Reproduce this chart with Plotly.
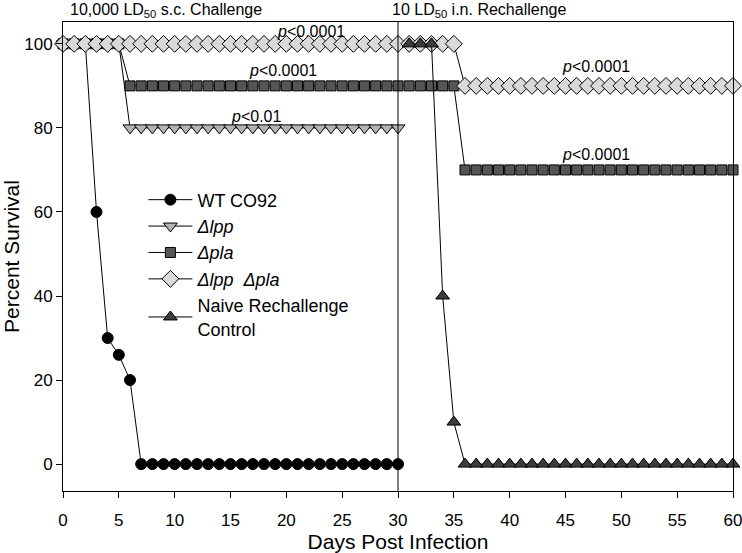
import plotly.graph_objects as go

# days and survival (%) for each group
days_sc = list(range(0, 31))
days_all = list(range(0, 61))
days_naive = list(range(31, 61))

wt_co92 = [100, 100, 100, 60, 30, 26, 20] + [0] * 24
d_lpp = [100] * 6 + [80] * 25
d_pla = [100] * 6 + [90] * 30 + [70] * 25
d_lpp_pla = [100] * 36 + [90] * 25
naive = [100, 100, 100, 40, 10] + [0] * 25

series = [
    ("WT CO92", days_sc, wt_co92, "circle", "black", 11),
    ("<i>Δlpp</i>", days_sc, d_lpp, "triangle-down", "#b4b4b4", 12),
    ("<i>Δpla</i>", days_all, d_pla, "square", "#555555", 10),
    ("<i>Δlpp  Δpla</i>", days_all, d_lpp_pla, "diamond", "#d9d9d9", 13),
    ("Naive Rechallenge<br>Control", days_naive, naive, "triangle-up", "#3c3c3c", 12),
]

fig = go.Figure()
for name, x, y, sym, col, sz in series:
    fig.add_trace(go.Scatter(
        x=x, y=y, name=name, mode='lines+markers',
        line=dict(color='black', width=1),
        marker=dict(symbol=sym, color=col, size=sz, line=dict(color='black', width=1)),
        cliponaxis=False
    ))

# p-value labels
pvals = [
    (22.2, 102.9, "<i>p</i><0.0001"),
    (19.7, 93.6, "<i>p</i><0.0001"),
    (17.3, 82.6, "<i>p</i><0.01"),
    (47.7, 94.5, "<i>p</i><0.0001"),
    (47.7, 73.6, "<i>p</i><0.0001"),
]
for px, py, txt in pvals:
    fig.add_annotation(x=px, y=py, text=txt, showarrow=False,
                       font=dict(size=16, color='black'))

fig.add_annotation(x=0.0075, y=1.0, xref='paper', yref='paper', yanchor='bottom', xanchor='left',
                   text="10,000 LD<sub>50</sub> s.c. Challenge", showarrow=False,
                   font=dict(size=16, color='black'))
fig.add_annotation(x=0.488, y=1.0, xref='paper', yref='paper', yanchor='bottom', xanchor='left',
                   text="10 LD<sub>50</sub> i.n. Rechallenge", showarrow=False,
                   font=dict(size=16, color='black'))

fig.add_shape(type='line', x0=30, x1=30, y0=0, y1=1, xref='x', yref='paper',
              line=dict(color='black', width=1))

fig.update_layout(
    width=742, height=553,
    margin=dict(l=63, r=9, t=22, b=62),
    plot_bgcolor='white', paper_bgcolor='white',
    font=dict(family='Liberation Sans, Arial, sans-serif', color='black', size=17),
    showlegend=True,
    legend=dict(x=0.12, y=0.66, xanchor='left', yanchor='top', itemwidth=44,
                bgcolor='rgba(0,0,0,0)', font=dict(size=18), tracegroupgap=0),
    xaxis=dict(range=[0, 60], tickvals=list(range(0, 61, 5)), showline=True, linecolor='black',
               linewidth=1, mirror=True, ticks='outside', ticklen=6, tickcolor='black',
               showgrid=False, zeroline=False, automargin=False, ticklabeloverflow='allow',
               ticklabelstandoff=8,
               title=dict(text='Days Post Infection', font=dict(size=21), standoff=2)),
    yaxis=dict(range=[-6.4, 105.2], tickvals=list(range(0, 101, 20)), showline=True, linecolor='black',
               linewidth=1, mirror=True, ticks='outside', ticklen=6, tickcolor='black',
               showgrid=False, zeroline=False, automargin=False,
               title=dict(text='Percent Survival', font=dict(size=21), standoff=2)),
)

# drop the default page margin so the figure sits at the window's top-left corner
fig.write_html("out.html", config={'displayModeBar': False},
               post_script="document.body.style.margin='0';")
